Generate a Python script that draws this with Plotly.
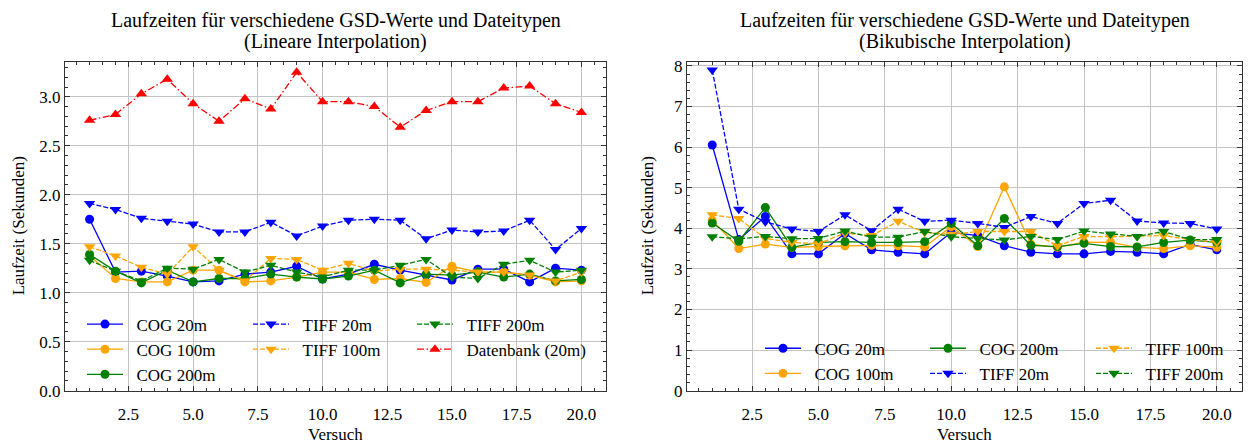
import plotly.graph_objects as go

W, H = 1251, 448

versuch = list(range(1, 21))

# Left: lineare Interpolation
lin_cog20 = [1.75, 1.21, 1.22, 1.17, 1.11, 1.12, 1.19, 1.21, 1.27, 1.14, 1.19, 1.29, 1.23, 1.18, 1.13, 1.24, 1.24, 1.11, 1.25, 1.23]
lin_cog100 = [1.38, 1.145, 1.11, 1.11, 1.23, 1.23, 1.11, 1.12, 1.16, 1.21, 1.21, 1.135, 1.145, 1.105, 1.27, 1.21, 1.21, 1.18, 1.11, 1.12]
lin_cog200 = [1.39, 1.22, 1.10, 1.23, 1.11, 1.145, 1.145, 1.19, 1.16, 1.14, 1.17, 1.23, 1.10, 1.19, 1.18, 1.21, 1.16, 1.19, 1.12, 1.135]
lin_tiff20 = [1.91, 1.85, 1.76, 1.73, 1.70, 1.62, 1.62, 1.72, 1.58, 1.68, 1.74, 1.75, 1.74, 1.55, 1.64, 1.62, 1.63, 1.74, 1.44, 1.655]
lin_tiff100 = [1.47, 1.375, 1.26, 1.19, 1.47, 1.23, 1.12, 1.35, 1.34, 1.23, 1.30, 1.22, 1.24, 1.24, 1.23, 1.21, 1.21, 1.18, 1.12, 1.21]
lin_tiff200 = [1.33, 1.22, 1.12, 1.25, 1.24, 1.34, 1.21, 1.28, 1.21, 1.16, 1.23, 1.23, 1.28, 1.34, 1.16, 1.145, 1.29, 1.33, 1.21, 1.23]
lin_db20 = [2.76, 2.82, 3.03, 3.18, 2.93, 2.75, 2.98, 2.875, 3.25, 2.95, 2.95, 2.90, 2.69, 2.86, 2.95, 2.95, 3.09, 3.11, 2.93, 2.84]

# Right: bikubische Interpolation
bic_cog20 = [6.05, 3.72, 4.29, 3.37, 3.37, 3.87, 3.47, 3.41, 3.37, 3.90, 3.82, 3.57, 3.41, 3.37, 3.37, 3.43, 3.41, 3.37, 3.60, 3.47]
bic_cog100 = [4.20, 3.50, 3.61, 3.53, 3.55, 3.57, 3.58, 3.57, 3.54, 4.04, 3.55, 5.02, 3.61, 3.53, 3.66, 3.65, 3.53, 3.50, 3.57, 3.53]
bic_cog200 = [4.13, 3.68, 4.51, 3.53, 3.65, 3.67, 3.65, 3.65, 3.67, 4.12, 3.57, 4.24, 3.58, 3.55, 3.63, 3.55, 3.54, 3.65, 3.71, 3.65]
bic_tiff20 = [7.90, 4.47, 4.16, 3.98, 3.92, 4.33, 3.94, 4.47, 4.17, 4.20, 4.12, 4.02, 4.29, 4.12, 4.61, 4.69, 4.18, 4.13, 4.12, 3.98]
bic_tiff100 = [4.33, 4.24, 3.75, 3.65, 3.62, 3.88, 3.82, 4.17, 3.90, 3.85, 3.92, 3.92, 3.92, 3.57, 3.80, 3.79, 3.80, 3.82, 3.72, 3.65]
bic_tiff200 = [3.79, 3.74, 3.80, 3.74, 3.75, 3.93, 3.78, 3.78, 3.92, 3.79, 3.75, 3.71, 3.80, 3.72, 3.93, 3.86, 3.80, 3.92, 3.72, 3.72]

x_ticks = [2.5, 5.0, 7.5, 10.0, 12.5, 15.0, 17.5, 20.0]
title_line1 = "Laufzeiten für verschiedene GSD-Werte und Dateitypen"
title_left_line2 = "(Lineare Interpolation)"
title_right_line2 = "(Bikubische Interpolation)"
x_label = "Versuch"
y_label = "Laufzeit (Sekunden)"

FONT = "Liberation Serif, Times New Roman, Times, serif"
BLUE, ORANGE, GREEN, RED = "#0000ff", "#ffa500", "#008000", "#ff0000"
DASH = "5px,2px"
DASHDOT = "7px,2.5px,1.5px,2.5px"
GAP = "\u2002"  # visual gap between legend symbol and text


def px(xp):
    return xp / W


def py(yp):
    return 1 - yp / H


fig = go.Figure()


def add(x, y, name, color, symbol, dash, xa, ya, legend):
    fig.add_trace(go.Scatter(
        x=x, y=y, name=GAP + name, mode="lines+markers",
        line=dict(color=color, width=1.3, dash=dash),
        marker=dict(color=color, symbol=symbol, size=9 if symbol == "circle" else 10),
        xaxis=xa, yaxis=ya, legend=legend, legendgroup=name + xa,
    ))


# left
add(versuch, lin_cog20, "COG 20m", BLUE, "circle", "solid", "x", "y", "legend")
add(versuch, lin_cog100, "COG 100m", ORANGE, "circle", "solid", "x", "y", "legend")
add(versuch, lin_cog200, "COG 200m", GREEN, "circle", "solid", "x", "y", "legend")
add(versuch, lin_tiff20, "TIFF 20m", BLUE, "triangle-down", DASH, "x", "y", "legend2")
add(versuch, lin_tiff100, "TIFF 100m", ORANGE, "triangle-down", DASH, "x", "y", "legend2")
add(versuch, lin_tiff200, "TIFF 200m", GREEN, "triangle-down", DASH, "x", "y", "legend3")
add(versuch, lin_db20, "Datenbank (20m)", RED, "triangle-up", DASHDOT, "x", "y", "legend3")
# right
add(versuch, bic_cog20, "COG 20m", BLUE, "circle", "solid", "x2", "y2", "legend4")
add(versuch, bic_cog100, "COG 100m", ORANGE, "circle", "solid", "x2", "y2", "legend4")
add(versuch, bic_cog200, "COG 200m", GREEN, "circle", "solid", "x2", "y2", "legend5")
add(versuch, bic_tiff20, "TIFF 20m", BLUE, "triangle-down", DASH, "x2", "y2", "legend5")
add(versuch, bic_tiff100, "TIFF 100m", ORANGE, "triangle-down", DASH, "x2", "y2", "legend6")
add(versuch, bic_tiff200, "TIFF 200m", GREEN, "triangle-down", DASH, "x2", "y2", "legend6")

AX = "#333333"
GRID = "#c4c4c4"


def xaxis(domain, anchor):
    return dict(
        domain=domain, anchor=anchor, range=[0.05, 20.95], tickvals=x_ticks,
        tickformat=".1f", showline=True, linecolor=AX, linewidth=1.2, mirror="allticks",
        ticks="inside", ticklen=5, tickwidth=1, tickcolor=AX, ticklabelstandoff=8,
        showgrid=True, gridcolor=GRID, gridwidth=1, zeroline=False,
        minor=dict(dtick=0.5, tick0=0, ticks="inside", ticklen=3, tickcolor=AX, showgrid=False),
        tickfont=dict(family=FONT, size=17, color="black"),
    )


def yaxis(domain, anchor, rng, dtick, minor, fmt):
    return dict(
        domain=domain, anchor=anchor, range=rng, dtick=dtick, tick0=0, tickformat=fmt,
        showline=True, linecolor=AX, linewidth=1.2, mirror="allticks",
        ticks="inside", ticklen=5, tickwidth=1, tickcolor=AX,
        showgrid=True, gridcolor=GRID, gridwidth=1, zeroline=False,
        minor=dict(dtick=minor, tick0=0, ticks="inside", ticklen=3, tickcolor=AX, showgrid=False),
        tickfont=dict(family=FONT, size=17, color="black"),
    )


top, bottom = 59, 399
ydom = [py(bottom), py(top)]

fig.update_layout(
    width=W, height=H, margin=dict(l=0, r=0, t=0, b=0),
    paper_bgcolor="white", plot_bgcolor="white",
    font=dict(family=FONT, size=17, color="black"),
    xaxis=xaxis([px(65), px(606)], "y"),
    yaxis=yaxis(ydom, "x", [0, 3.355], 0.5, 0.1, ".1f"),
    xaxis2=xaxis([px(687), px(1242)], "y2"),
    yaxis2=yaxis(ydom, "x2", [0, 8.095], 1, 0.2, "d"),
)

leg_common = dict(bgcolor="rgba(0,0,0,0)", borderwidth=0, xanchor="left", yanchor="top",
                  font=dict(family=FONT, size=17), traceorder="grouped", tracegroupgap=0,
                  itemwidth=36)
legend_pos = {
    "legend": (82, 312), "legend2": (248, 312), "legend3": (412, 312),
    "legend4": (760, 337), "legend5": (925, 337), "legend6": (1091, 337),
}
for k, (lx, ly) in legend_pos.items():
    fig.update_layout({k: dict(x=px(lx), y=py(ly), **leg_common)})


def ann(text, xp, yp, size, angle=0):
    return dict(text=text, x=px(xp), y=py(yp), xref="paper", yref="paper", textangle=angle,
                showarrow=False, font=dict(family=FONT, size=size, color="black"),
                xanchor="center", yanchor="middle")


annotations = [
    ann(title_line1, 335.5, 16, 20), ann(title_left_line2, 335.5, 38, 20),
    ann(title_line1, 964.5, 16, 20), ann(title_right_line2, 964.5, 38, 20),
    ann(x_label, 335.5, 444, 17), ann(x_label, 964.5, 444, 17),
    ann(y_label, 18, 229, 17, -90), ann(y_label, 647, 229, 17, -90),
]
fig.update_layout(annotations=annotations)

fig.write_html("out.html")
